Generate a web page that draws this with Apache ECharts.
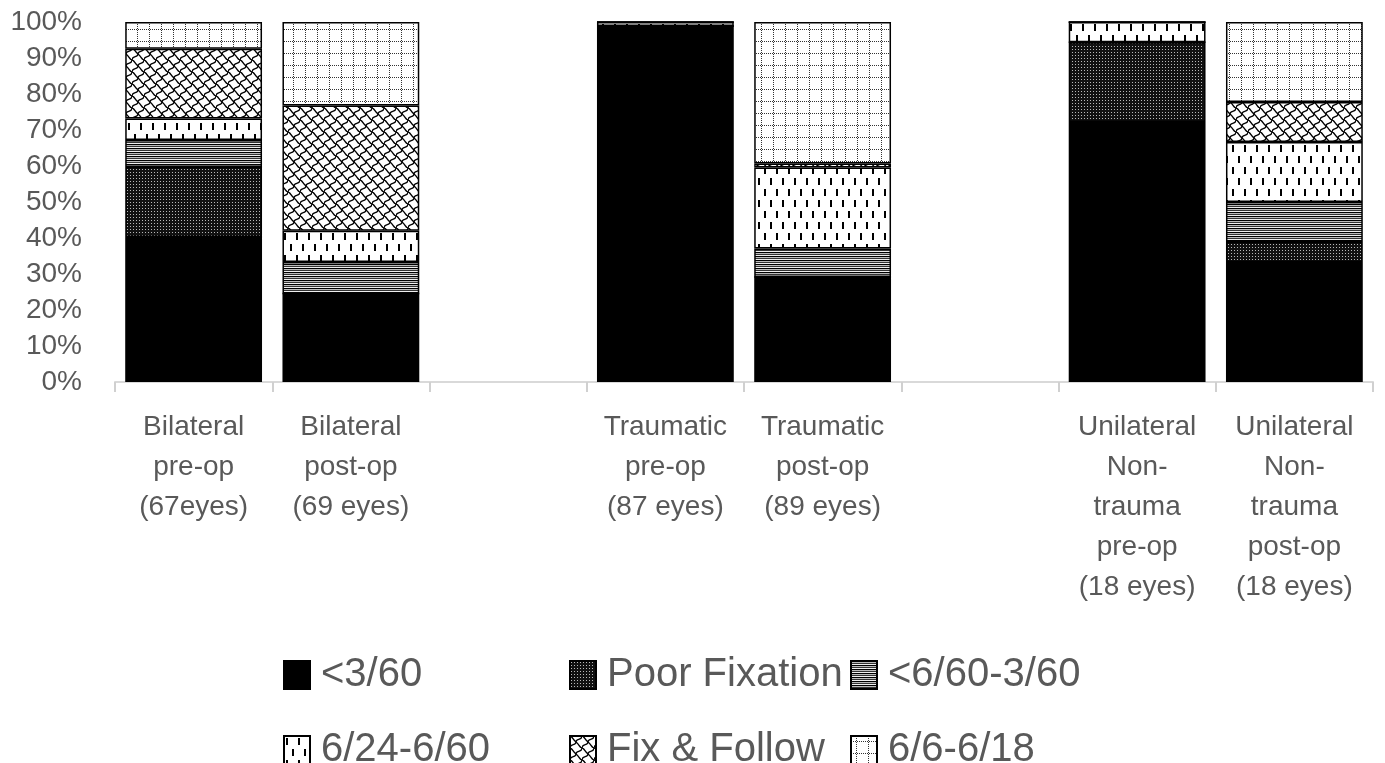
<!DOCTYPE html>
<html>
<head>
<meta charset="utf-8">
<script src="https://cdn.jsdelivr.net/npm/echarts@6/dist/echarts.min.js"></script>
<style>
	html, body { margin: 0; padding: 0; background: #fff; }
	#chart { width: 1385px; height: 763px; }
</style>
</head>
<body>
<div id="chart"></div>
<script>
// 分类（两个空位用来分组）
var categories = [ 'Bilateral\npre-op\n(67eyes)', 'Bilateral\npost-op\n(69 eyes)', ' ',
		'Traumatic\npre-op\n(87 eyes)', 'Traumatic\npost-op\n(89 eyes)', '  ',
		'Unilateral\nNon-\ntrauma\npre-op\n(18 eyes)', 'Unilateral\nNon-\ntrauma\npost-op\n(18 eyes)' ];
var seriesNames = [ '<3/60', 'Poor Fixation', '<6/60-3/60', '6/24-6/60', 'Fix & Follow', '6/6-6/18' ];
// 百分比
var lt360 = [ 40.3, 24.6, null, 98.9, 29.2, null, 72.2, 33.3 ];
var poorFix = [ 19.4, 0, null, 0, 0, null, 22.2, 5.6 ];
var lt660 = [ 7.5, 8.7, null, 0, 7.9, null, 0, 11.1 ];
var v624 = [ 6.0, 8.7, null, 1.1, 22.5, null, 5.6, 16.7 ];
var fixFollow = [ 19.4, 34.8, null, 0, 1.1, null, 0, 11.1 ];
var v66 = [ 7.4, 23.2, null, 0, 39.3, null, 0, 22.2 ];
var yTicks = [ 0, 10, 20, 30, 40, 50, 60, 70, 80, 90, 100 ];

var seriesData = [ lt360, poorFix, lt660, v624, fixFollow, v66 ];

function makeTile(w, h, draw) {
	var c = document.createElement('canvas');
	c.width = w;
	c.height = h;
	var ctx = c.getContext('2d');
	draw(ctx);
	return c;
}

// 填充图案
var patterns = [];
patterns[0] = '#000';
patterns[1] = {
	image : makeTile(3, 3, function(ctx) {
		ctx.fillStyle = '#111';
		ctx.fillRect(0, 0, 3, 3);
		ctx.fillStyle = '#b8b8b8';
		ctx.fillRect(1, 1, 1, 1);
	}),
	repeat : 'repeat'
};
patterns[2] = {
	image : makeTile(4, 4, function(ctx) {
		var rows = [ '#000', '#bbb', '#333', '#eee' ];
		for (var i = 0; i < 4; i++) {
			ctx.fillStyle = rows[i];
			ctx.fillRect(0, i, 4, 1);
		}
	}),
	repeat : 'repeat'
};
patterns[3] = {
	image : makeTile(12, 22, function(ctx) {
		ctx.fillStyle = '#fff';
		ctx.fillRect(0, 0, 12, 22);
		ctx.fillStyle = '#000';
		ctx.fillRect(2, 2, 2, 7);
		ctx.fillRect(8, 13, 2, 7);
	}),
	repeat : 'repeat'
};
patterns[4] = {
	image : makeTile(12, 12, function(ctx) {
		ctx.fillStyle = '#fff';
		ctx.fillRect(0, 0, 12, 12);
		ctx.strokeStyle = '#000';
		ctx.lineWidth = 1.4;
		ctx.beginPath();
		// 斜向波浪
		ctx.moveTo(0, 12);
		ctx.bezierCurveTo(0, 7, 6, 10, 6, 6);
		ctx.bezierCurveTo(6, 2, 12, 5, 12, 0);
		// 横向连接
		ctx.moveTo(6, 6);
		ctx.bezierCurveTo(9, 8, 10, 12, 12, 12);
		ctx.moveTo(0, 0);
		ctx.bezierCurveTo(2, 0, 3, 4, 6, 6);
		ctx.stroke();
	}),
	repeat : 'repeat'
};
patterns[5] = {
	image : makeTile(12, 12, function(ctx) {
		ctx.fillStyle = '#fff';
		ctx.fillRect(0, 0, 12, 12);
		ctx.fillStyle = '#333';
		for (var i = 0; i < 12; i += 2) {
			ctx.fillRect(i, 5, 1, 1);
			ctx.fillRect(5, i, 1, 1);
		}
	}),
	repeat : 'repeat'
};

var series = [];
for (var s = 0; s < seriesNames.length; s++) {
	series.push({
		name : seriesNames[s],
		type : 'bar',
		stack : 'total',
		barCategoryGap : '13%',
		data : seriesData[s],
		itemStyle : {
			color : patterns[s],
			borderColor : '#000',
			borderWidth : 1.5
		},
		emphasis : {
			disabled : true
		}
	});
}

var labelColor = '#595959';
var legendText = {
	color : labelColor,
	fontSize : 40,
	fontFamily : 'Liberation Sans',
	padding : [ 0, 0, 0, 6 ]
};

// 每个图例单独定位，排成两行三列
var legendLefts = [ 278, 564, 845 ];
var legendTops = [ 650, 725 ];
var legendOrder = [ [ '<3/60', 'Poor Fixation', '<6/60-3/60' ],
		[ '6/24-6/60', 'Fix & Follow', '6/6-6/18' ] ];
var legends = [];
for (var r = 0; r < legendOrder.length; r++) {
	for (var c = 0; c < legendOrder[r].length; c++) {
		legends.push({
			left : legendLefts[c],
			top : legendTops[r],
			itemWidth : 26,
			itemHeight : 28,
			icon : 'rect',
			selectedMode : false,
			data : [ legendOrder[r][c] ],
			textStyle : legendText
		});
	}
}

var chart = echarts.init(document.getElementById('chart'));
var option = {
	animation : false,
	grid : {
		left : 115,
		right : 12,
		top : 22,
		bottom : 381,
		containLabel : false
	},
	legend : legends,
	xAxis : {
		type : 'category',
		data : categories,
		axisLine : {
			lineStyle : {
				color : '#d9d9d9',
				width : 2
			}
		},
		axisTick : {
			show : true,
			length : 10,
			lineStyle : {
				color : '#d0d0d0',
				width : 2
			}
		},
		axisLabel : {
			interval : 0,
			margin : 25,
			color : labelColor,
			fontSize : 28,
			lineHeight : 40,
			fontFamily : 'Liberation Sans'
		}
	},
	yAxis : {
		type : 'value',
		min : yTicks[0],
		max : yTicks[yTicks.length - 1],
		interval : 10,
		axisLine : {
			show : false
		},
		axisTick : {
			show : false
		},
		splitLine : {
			show : false
		},
		axisLabel : {
			formatter : '{value}%',
			margin : 33,
			color : labelColor,
			fontSize : 28,
			fontFamily : 'Liberation Sans'
		}
	},
	series : series
};
chart.setOption(option);
</script>
</body>
</html>
